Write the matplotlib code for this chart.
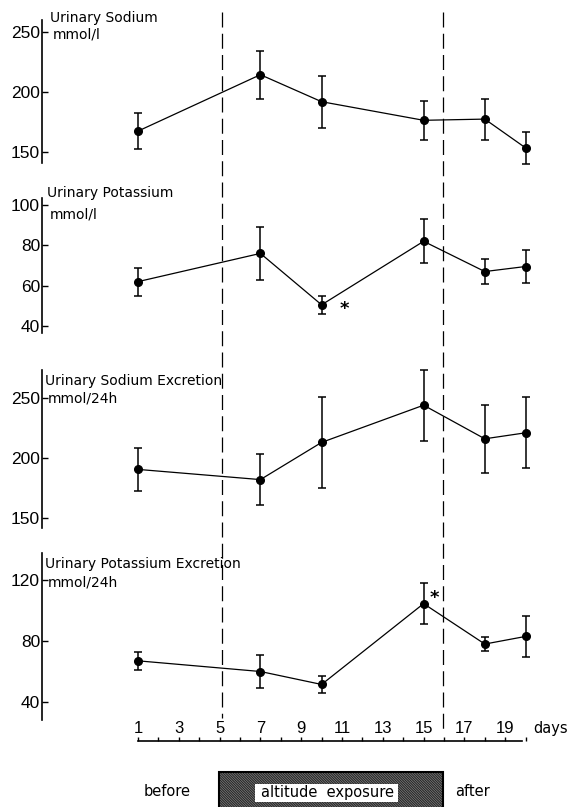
import matplotlib
matplotlib.use("Agg")
import matplotlib.pyplot as plt
from matplotlib.patches import Rectangle

# measurements over the stay (days)
days = [1, 7, 10, 15, 18, 20]

na_conc = [167, 214, 191.5, 176, 177, 153]
na_conc_err = [15, 20, 21.5, 16.5, 17, 13.5]

k_conc = [62, 76, 50.5, 82, 67, 69.5]
k_conc_err = [7, 13, 4.5, 11, 6, 8]

na_excr = [190.5, 182, 213, 244, 216, 221]
na_excr_err = [18, 21.5, 38, 29.5, 28.5, 29.5]

k_excr = [67, 60, 51.5, 104.5, 78, 83]
k_excr_err = [5.7, 10.6, 5.7, 13.3, 4.3, 13.2]

day_ticks = list(range(1, 21))
day_labels = [str(d) if d % 2 == 1 else "" for d in day_ticks]

W, H = 568, 807
X0, DX = 138, 20.4      # pixel of day 1, pixels per day
YAX = 41.5              # pixel column of the y axes

NUMF = "Liberation Sans"
plt.rcParams["hatch.linewidth"] = 0.6


def px2day(px):
    return 1 + (px - X0) / DX


fig = plt.figure(figsize=(W / 100, H / 100), dpi=100)
base = fig.add_axes([0, 0, 1, 1])
base.set_xlim(px2day(0), px2day(W))
base.set_ylim(H, 0)
base.axis("off")


def add_panel(top, bottom, cal, ticks, vals, errs, title, unit, tpos):
    ax = fig.add_axes([YAX / W, 1 - bottom / H, 1 - YAX / W, (bottom - top) / H])
    (va, pa), (vb, pb) = cal
    k = (vb - va) / (pb - pa)
    ax.set_ylim(va + (bottom - pa) * k, va + (top - pa) * k)
    ax.set_xlim(px2day(YAX), px2day(W))
    ax.patch.set_alpha(0)
    for s in ["top", "right", "bottom"]:
        ax.spines[s].set_visible(False)
    ax.spines["left"].set_linewidth(1.2)
    ax.set_xticks([])
    ax.set_yticks(ticks)
    ax.set_yticklabels([str(t) for t in ticks], family=NUMF, fontsize=12.5)
    ax.tick_params(axis="y", direction="in", length=4, width=1, pad=1)
    ax.errorbar(days, vals, yerr=errs, fmt="-o", color="black", ms=5.5, lw=0.9,
                elinewidth=1.1, capsize=2.7, capthick=1.1, clip_on=False)
    base.text(px2day(tpos[0]), tpos[1], title, fontsize=10, va="center")
    base.text(px2day(tpos[0] + 3), tpos[2], unit, fontsize=10, va="center")
    return ax


ax1 = add_panel(20, 163, [(250, 31.5), (150, 151.5)], [150, 200, 250],
                na_conc, na_conc_err, "Urinary Sodium", "mmol/l", (50, 18, 35))
ax2 = add_panel(198, 333, [(100, 205), (40, 326)], [40, 60, 80, 100],
                k_conc, k_conc_err, "Urinary Potassium", "mmol/l", (47, 193, 215))
ax3 = add_panel(370, 528, [(250, 398), (150, 518)], [150, 200, 250],
                na_excr, na_excr_err, "Urinary Sodium Excretion", "mmol/24h", (45, 381, 398))
ax4 = add_panel(553, 720, [(120, 580), (40, 702)], [40, 80, 120],
                k_excr, k_excr_err, "Urinary Potassium Excretion", "mmol/24h", (45, 564, 583))

ax2.text(11.1, 48.5, "*", fontsize=13, fontweight="bold", ha="center", va="center")
ax4.text(15.55, 108, "*", fontsize=13, fontweight="bold", ha="center", va="center")

# dashed lines marking the altitude period
base.plot([5.1, 5.1], [12, 718], color="black", lw=0.9, ls=(0, (12, 5)))
base.plot([15.95, 15.95], [12, 730], color="black", lw=0.9, ls=(0, (12, 5)))

# day axis
axd = fig.add_axes([0, 1 - 742 / H, 1, 0.001])
axd.set_xlim(px2day(0), px2day(W))
axd.patch.set_alpha(0)
for s in ["bottom", "left", "right"]:
    axd.spines[s].set_visible(False)
axd.spines["top"].set_bounds(1, 19.8)
axd.spines["top"].set_linewidth(1.2)
axd.set_yticks([])
axd.xaxis.tick_top()
axd.set_xticks(day_ticks)
axd.set_xticklabels(day_labels, family=NUMF, fontsize=12)
axd.tick_params(axis="x", direction="out", length=3, width=1, pad=1)
base.text(px2day(533), 728, "days", fontsize=10.5, va="center")

# before / altitude exposure / after bar
base.add_patch(Rectangle((4.95, 772), 11.0, 40, facecolor="white",
                         edgecolor="black", lw=1.5, hatch="\\" * 20))
base.add_patch(Rectangle((px2day(255), 784), (398 - 255) / DX, 18,
                         facecolor="white", edgecolor="none", zorder=3))
base.text(px2day(327), 793, "altitude  exposure", fontsize=10.5, ha="center",
          va="center", zorder=4)
base.text(px2day(167), 792, "before", fontsize=10.5, ha="center", va="center")
base.text(px2day(472), 792, "after", fontsize=10.5, ha="center", va="center")

fig.savefig("out.png", dpi=100)
